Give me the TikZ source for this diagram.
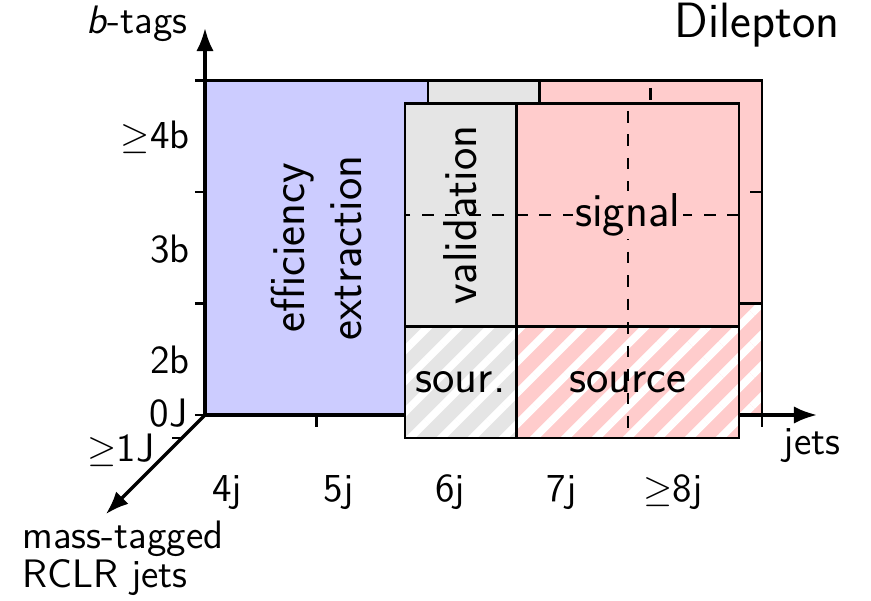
\documentclass[tikz,border=0pt]{standalone}
\usepackage{tikz}
\usetikzlibrary{arrows.meta,patterns.meta}

\begin{document}
\begin{tikzpicture}[
  x=1.5cm, y=1.5cm, >=Latex,
  font=\sffamily\fontsize{15.2}{13.2}\selectfont,
  cell/.style={draw, line width=1pt},
  effbox/.style={cell, fill=blue!20},
  valbox/.style={cell, fill=gray!20},
  sigbox/.style={cell, fill=red!20},
  srcbox/.style={cell, preaction={fill=#1!20}, pattern={Lines[angle=45,distance=8.4pt,line width=2.9pt]}, pattern color=white},
  cut/.style={line width=0.9pt, dash pattern=on 4.5pt off 4.5pt},
  axis/.style={line width=1.3pt, ->},
  tickmark/.style={line width=1pt},
  region/.style={font=\sffamily\fontsize{18.2}{22}\selectfont, align=center},
]
\useasboundingbox (-1.840,-1.661) rectangle (5.978,3.725);
% back plane: 0J
\path[effbox] (0,0) rectangle (2,3);
\path[valbox] (2,1) rectangle (3,3);
\path[sigbox] (3,1) rectangle (5,3);
\path[srcbox=gray] (2,0) rectangle (3,1);
\path[srcbox=red] (3,0) rectangle (5,1);
\draw[cut] (5,2) -- (2,2);
\draw[cut, dash phase=6.3pt] (4,3) -- (4,0);
\node[region, rotate=90] (eff) at (1,1.5) {efficiency\\extraction};
% axes
\coordinate (O) at (0,0);
\coordinate (xend) at (5.494,0);
\coordinate (yend) at (0,3.474);
\coordinate (zend) at (-0.89,-0.89);
\draw[axis] (O) -- (xend);
\draw[axis] (O) -- (yend);
\draw[axis] (O) -- (zend);
\foreach \y in {0,...,3}
  \draw[tickmark] (-0.09,\y) -- (0,\y);
\foreach \x in {1,...,5}
  \draw[tickmark] (\x,0) -- (\x,-0.105);
\draw[tickmark] (-0.296,-0.206) -- (-0.206,-0.206);
% front plane: >=1J
\begin{scope}[shift={(-0.206,-0.206)}]
  \path[valbox] (2,1) rectangle (3,3);
  \path[sigbox] (3,1) rectangle (5,3);
  \path[srcbox=gray] (2,0) rectangle (3,1);
  \path[srcbox=red] (3,0) rectangle (5,1);
  \draw[cut] (5,2) -- (2,2);
  \draw[cut, dash phase=6.3pt] (4,3) -- (4,0);
  \node[region, rotate=90] (val) at (2.5,2) {validation};
  \node[region, fill=red!20, inner sep=1pt] (sig) at (4,2) {signal};
  \node[region] (sour) at (2.5,0.5) {sour.};
  \node[region] (src) at (4,0.5) {source};
\end{scope}
% axis labels
\node[anchor=east, inner sep=0] (btags) at (-0.153,3.51) {\textit{b}-tags};
\node[anchor=east, inner sep=0, font=\sffamily\fontsize{19}{22}\selectfont] (title) at (5.70,3.50) {Dilepton};
\node[anchor=base, inner sep=0] (jets) at (5.449,-0.359) {jets};
\node[anchor=north west, inner sep=0, align=left] (mass) at (-1.643,-0.95) {mass-tagged\\RCLR jets};
\foreach \lab [count=\i from 0] in {4j,5j,6j,7j,$\geq$8j}
  \node[anchor=base, inner sep=0] (j\i) at (\i+0.2,-0.772) {\lab};
\foreach \lab [count=\i from 0] in {2b,3b,$\geq$4b}
  \node[anchor=east, inner sep=0] (b\i) at (-0.135,\i+0.49) {\lab};
\node[anchor=east, inner sep=0] (zeroJ) at (-0.153,0.02) {0J};
\node[anchor=east, inner sep=0] (oneJ) at (-0.449,-0.314) {$\geq$1J};
\end{tikzpicture}
\end{document}
